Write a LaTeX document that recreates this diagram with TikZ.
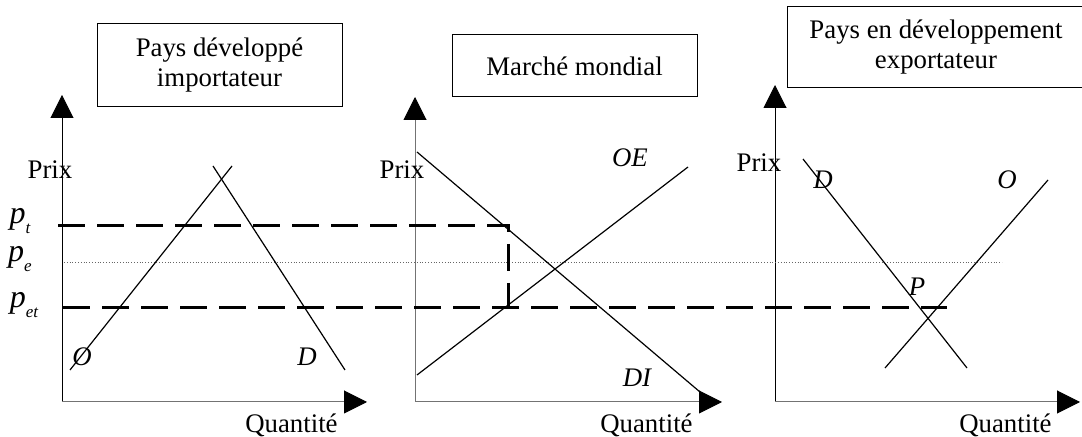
\documentclass[tikz,border=0pt]{standalone}
\usepackage{fontspec}
\setmainfont{Liberation Serif}
\usetikzlibrary{positioning, arrows.meta}

\newcommand{\prixsub}[1]{{\fontsize{16}{16}\selectfont\itshape p}\raisebox{-5pt}{\fontsize{8.5}{8.5}\selectfont\itshape #1}}

\begin{document}
\begin{tikzpicture}[
    x=0.5pt, y=-0.5pt,
    font=\fontsize{13.4}{15}\selectfont,
    titlebox/.style={draw, line width=0.5pt, align=center, inner sep=2pt},
    axis/.style={-{Triangle[width=11.5pt, length=11.5pt, color=black]}, line width=0.5pt},
    curve/.style={line width=0.6pt},
    dashline/.style={line width=1.5pt, dash pattern=on 13.5pt off 6pt},
    dotline/.style={line width=0.4pt, densely dotted, black!60},
    lbl/.style={font=\fontsize{13.4}{15}\selectfont\itshape, inner sep=1pt},
    qlbl/.style={inner sep=1pt}
]
    \useasboundingbox (0,0) rectangle (1082,437);

    % Titles
    \node[titlebox, minimum width=122.5pt, minimum height=41.5pt] (t1) at (219.5,65) {Pays développé\\importateur};
    \node[titlebox, minimum width=122.5pt, minimum height=31pt] (t2) at (574.5,66) {Marché mondial};
    \node[titlebox, minimum width=149pt, minimum height=40.5pt] (t3) at (936,47.5) {Pays en développement\\exportateur};

    % Axes
    \coordinate (o1) at (62,402);
    \coordinate (y1) at (62,95);
    \coordinate (x1) at (367,402);
    \coordinate (o2) at (415,402);
    \coordinate (y2) at (415,97);
    \coordinate (x2) at (722,402);
    \coordinate (o3) at (775,402);
    \coordinate (y3) at (775,85);
    \coordinate (x3) at (1080,402);
    \draw[axis] (o1) -- (y1);
    \draw[axis, black!55] (o1) -- (x1);
    \draw[axis, black!55] (o2) -- (y2);
    \draw[axis, black!55] (o2) -- (x2);
    \draw[axis] (o3) -- (y3);
    \draw[axis, black!55] (o3) -- (x3);

    \node (prix1) at (50,170) {Prix};
    \node (prix2) at (402,170) {Prix};
    \node (prix3) at (759,163) {Prix};
    \node[qlbl, below left=4.5pt and 13.5pt of x1] (q1) {Quantité};
    \node[qlbl, below left=4.5pt and 13.5pt of x2] (q2) {Quantité};
    \node[qlbl, below left=4.5pt and 13pt of x3] (q3) {Quantité};

    % Price levels
    \coordinate (pt0) at (58,226);
    \coordinate (pt1) at (508,226);
    \coordinate (pet0) at (63,308);
    \coordinate (pet1) at (508,308);
    \coordinate (pet2) at (947,308);
    \coordinate (pe0) at (64,262);
    \coordinate (pe1) at (1002,262);
    \draw[dotline] (pe0) -- (pe1);
    \draw[dashline] (pt0) -- (pt1) -- (pet1);
    \draw[dashline] (pet0) -- (pet2);
    \node (lpt) at (20,221) {\prixsub{t}};
    \node (lpe) at (20,259) {\prixsub{e}};
    \node (lpet) at (24,305) {\prixsub{et}};

    % Importing country
    \coordinate (s1a) at (70,370);
    \coordinate (s1b) at (232,166);
    \coordinate (d1a) at (213,166);
    \coordinate (d1b) at (345,370);
    \draw[curve] (s1a) -- (s1b);
    \draw[curve] (d1a) -- (d1b);
    \node[lbl] (lo1) at (82,357) {O};
    \node[lbl] (ld1) at (307,357) {D};

    % World market
    \coordinate (di2a) at (417,152);
    \coordinate (di2b) at (700,392);
    \coordinate (oe2a) at (417,375);
    \coordinate (oe2b) at (688,167);
    \draw[curve] (di2a) -- (di2b);
    \draw[curve] (oe2a) -- (oe2b);
    \node[lbl] (loe) at (630,158) {OE};
    \node[lbl] (ldi) at (637,378) {DI};

    % Exporting country
    \coordinate (d3a) at (803,159);
    \coordinate (d3b) at (967,368);
    \coordinate (s3a) at (1048,180);
    \coordinate (s3b) at (885,368);
    \draw[curve] (d3a) -- (d3b);
    \draw[curve] (s3a) -- (s3b);
    \node[lbl] (ld3) at (823,180) {D};
    \node[lbl] (lo3) at (1007,180) {O};
    \node[lbl] (lp3) at (917,287) {P};
\end{tikzpicture}
\end{document}
